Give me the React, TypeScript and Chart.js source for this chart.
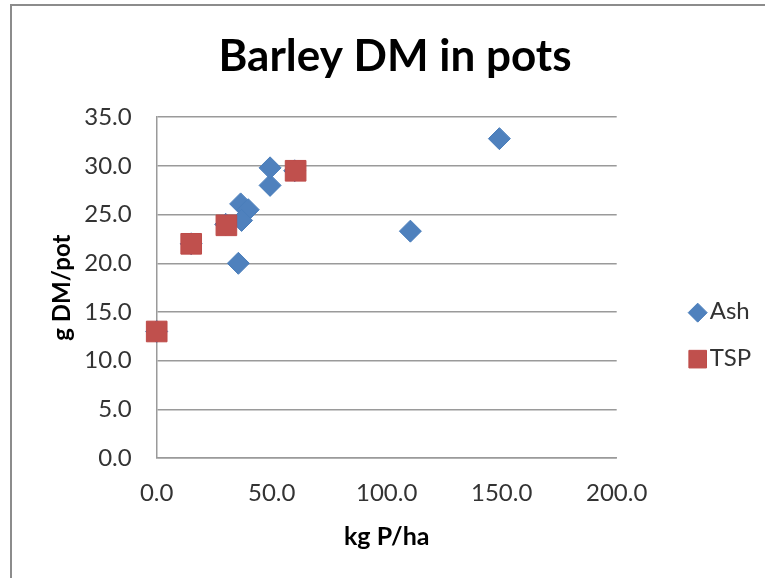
import { useEffect, useRef } from 'react';
import { Chart, registerables } from 'chart.js';

Chart.register(...registerables);

const chartTitle = 'Barley DM in pots';
const xTitle = 'kg P/ha';
const yTitle = 'g DM/pot';

const ashLabel = 'Ash';
const ashX = [0, 15, 30, 60, 35.5, 36.5, 39.8, 36.9, 49.3, 49.3, 110.3, 149];
const ashY = [13.0, 22.0, 24.0, 29.5, 20.0, 26.1, 25.5, 24.4, 28.0, 29.8, 23.3, 32.8];

const tspLabel = 'TSP';
const tspX = [0, 15, 30.3, 60.4];
const tspY = [13.0, 22.0, 23.9, 29.5];

const xTicks = [0, 50, 100, 150, 200];
const yTicks = [0, 5, 10, 15, 20, 25, 30, 35];

const FONT = 'Lato';

const sideLegend = {
  id: 'sideLegend',
  afterDraw(chart: any) {
    const { ctx, chartArea } = chart;
    const cx = chartArea.right + 81;
    const y0 = (chartArea.top + chartArea.bottom) / 2 + 25;
    chart.data.datasets.forEach((ds: any, i: number) => {
      const y = y0 + i * 46.5;
      ctx.save();
      ctx.fillStyle = ds.backgroundColor;
      ctx.strokeStyle = ds.borderColor;
      ctx.lineWidth = 1;
      ctx.beginPath();
      if (ds.pointStyle === 'rectRot') {
        const r = 9.5;
        ctx.moveTo(cx - r, y);
        ctx.lineTo(cx, y - r);
        ctx.lineTo(cx + r, y);
        ctx.lineTo(cx, y + r);
        ctx.closePath();
      } else {
        const h = 8.8;
        ctx.rect(cx - h, y - h, 2 * h, 2 * h);
      }
      ctx.fill();
      ctx.stroke();
      ctx.fillStyle = '#333333';
      ctx.font = `24px ${FONT}`;
      ctx.textAlign = 'left';
      ctx.textBaseline = 'middle';
      ctx.fillText(ds.label, cx + 12, y - 1);
      ctx.restore();
    });
  },
};

export default function App() {
  const ref = useRef<HTMLCanvasElement | null>(null);

  useEffect(() => {
    if (!ref.current) return;
    const chart = new Chart(ref.current, {
      type: 'scatter',
      data: {
        datasets: [
          {
            label: ashLabel,
            data: ashX.map((x, i) => ({ x, y: ashY[i] })),
            pointStyle: 'rectRot',
            pointRadius: 11,
            pointBorderWidth: 1,
            backgroundColor: '#4F81BD',
            borderColor: '#4A7EBB',
            clip: false,
            order: 2,
          },
          {
            label: tspLabel,
            data: tspX.map((x, i) => ({ x, y: tspY[i] })),
            pointStyle: 'rect',
            pointRadius: 14.6,
            pointBorderWidth: 1,
            backgroundColor: '#C0504D',
            borderColor: '#BE4B48',
            clip: false,
            order: 1,
          },
        ],
      },
      options: {
        responsive: false,
        animation: false,
        devicePixelRatio: 1,
        layout: { padding: { left: 25, right: 0, top: 0, bottom: 0 } },
        plugins: {
          legend: { display: false },
          tooltip: { enabled: false },
          title: {
            display: true,
            text: chartTitle,
            color: '#000000',
            font: { family: FONT, size: 44, weight: 'bold', lineHeight: 1.2 },
            padding: { top: 30.6, bottom: 33.8 },
          },
        },
        scales: {
          x: {
            type: 'linear',
            min: 0,
            max: 200,
            afterBuildTicks: (s: any) => {
              s.ticks = xTicks.map((v) => ({ value: v }));
            },
            afterFit: (s: any) => {
              s.height = 119.9;
            },
            grid: { display: false, drawTicks: false },
            border: { display: true, color: '#9a9a9a', width: 1.5 },
            ticks: {
              padding: 20.5,
              color: '#333333',
              font: { family: FONT, size: 24 },
              callback: (v: any) => Number(v).toFixed(1),
              maxRotation: 0,
            },
            title: {
              display: true,
              text: xTitle,
              color: '#000000',
              font: { family: FONT, size: 25, weight: 'bold', lineHeight: 1.2 },
              padding: { top: 0, bottom: 26 },
            },
          },
          y: {
            type: 'linear',
            min: 0,
            max: 35,
            afterBuildTicks: (s: any) => {
              s.ticks = yTicks.map((v) => ({ value: v }));
            },
            afterFit: (s: any) => {
              s.width = 131.7;
            },
            grid: { color: '#9a9a9a', lineWidth: 1.5, drawTicks: false },
            border: { display: true, color: '#9a9a9a', width: 1.5 },
            ticks: {
              padding: 25,
              color: '#333333',
              font: { family: FONT, size: 24 },
              callback: (v: any) => Number(v).toFixed(1),
            },
            title: {
              display: true,
              text: yTitle,
              color: '#000000',
              font: { family: FONT, size: 24, weight: 'bold', lineHeight: 1.2 },
              padding: { top: 23.1, bottom: 0 },
            },
          },
          yRight: {
            type: 'linear',
            position: 'right',
            display: true,
            afterFit: (s: any) => {
              s.width = 148.3;
            },
            grid: { display: false, drawTicks: false, drawOnChartArea: false },
            border: { display: false },
            ticks: { display: false },
          },
        },
      },
      plugins: [sideLegend],
    });
    return () => chart.destroy();
  }, []);

  return (
    <div style={{ position: 'fixed', left: 0, top: 0, width: 765, height: 578, background: '#ffffff', overflow: 'hidden' }}>
      <div
        style={{
          position: 'absolute',
          left: 10,
          top: 4,
          width: 800,
          height: 620,
          borderLeft: '2px solid #8c8c8c',
          borderTop: '2px solid #8c8c8c',
          boxSizing: 'border-box',
        }}
      />
      <canvas ref={ref} width={765} height={578} style={{ position: 'absolute', left: 0, top: 0, display: 'block' }} />
    </div>
  );
}
